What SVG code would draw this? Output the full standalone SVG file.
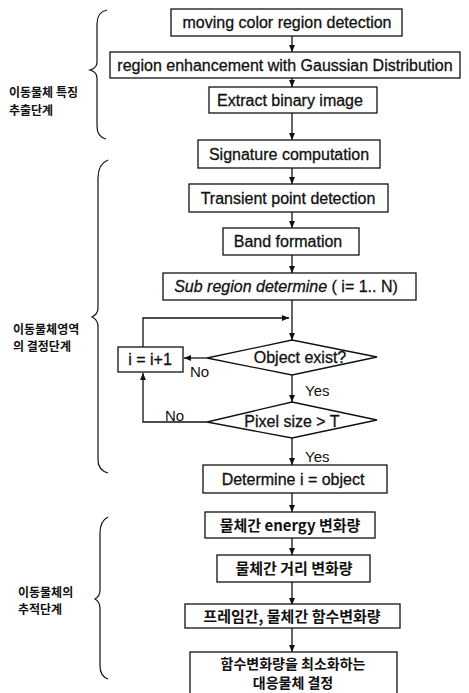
<svg xmlns="http://www.w3.org/2000/svg" width="469" height="693" viewBox="0 0 469 693">
<style>
.box{fill:#fff;stroke:#111;stroke-width:1.3}
.t{font-family:"Liberation Sans","Noto Sans CJK KR",sans-serif;font-size:16px;fill:#111;stroke:#111;stroke-width:0.3;text-anchor:middle}
.k{font-family:"Noto Sans CJK KR","Liberation Sans",sans-serif;font-size:15px;fill:#111;text-anchor:middle;font-weight:bold}
.k2{font-family:"Noto Sans CJK KR","Liberation Sans",sans-serif;font-size:14px;fill:#111;text-anchor:middle;font-weight:bold}
.lab{font-family:"Noto Sans CJK KR","Liberation Sans",sans-serif;font-size:12px;fill:#111;font-weight:bold}
.yn{font-family:"Liberation Sans",sans-serif;font-size:15px;fill:#111}
.c{fill:none;stroke:#111;stroke-width:1.3}
.br{fill:none;stroke:#111;stroke-width:1.2}
</style>
<defs>
<marker id="ah" markerUnits="userSpaceOnUse" markerWidth="8" markerHeight="8" refX="7" refY="4" orient="auto">
<path d="M0,1 L7,4 L0,7 Z" fill="#111"/>
</marker>
</defs>
<rect width="469" height="693" fill="#fff"/>

<g id="braces">
<path class="br" d="M107,10 Q97,12 97,24 L97,62 Q97,68 90,70 Q97,72 97,78 L97,126 Q97,137 106,139"/>
<path class="br" d="M108,160 Q98,164 98,178 L98,308 Q98,314 92,317 Q98,320 98,326 L98,460 Q98,470 108,473"/>
<path class="br" d="M108,517 Q100,521 100,533 L100,590 Q100,596 95,599 Q100,602 100,608 L100,666 Q100,676 108,679"/>
</g>

<g id="labels">
<text class="lab" x="9" y="97">이동물체 특징</text>
<text class="lab" x="9" y="115">추출단계</text>
<text class="lab" x="13" y="334">이동물체영역</text>
<text class="lab" x="13" y="351">의 결정단계</text>
<text class="lab" x="18" y="597">이동물체의</text>
<text class="lab" x="18" y="614">추적단계</text>
</g>

<g id="connectors">
<line class="c" x1="292" y1="36" x2="292" y2="52" marker-end="url(#ah)"/>
<line class="c" x1="292" y1="78" x2="292" y2="87" marker-end="url(#ah)"/>
<line class="c" x1="292" y1="113" x2="292" y2="140" marker-end="url(#ah)"/>
<line class="c" x1="292" y1="168" x2="292" y2="184" marker-end="url(#ah)"/>
<line class="c" x1="292" y1="212" x2="292" y2="228" marker-end="url(#ah)"/>
<line class="c" x1="292" y1="255" x2="292" y2="273" marker-end="url(#ah)"/>
<line class="c" x1="292" y1="300" x2="292" y2="340" marker-end="url(#ah)"/>
<polyline class="c" points="143,347 143,318 289,318" marker-end="url(#ah)"/>
<line class="c" x1="207" y1="358" x2="184" y2="358" marker-end="url(#ah)"/>
<line class="c" x1="292" y1="375" x2="292" y2="402" marker-end="url(#ah)"/>
<polyline class="c" points="207,422 143,422 143,373" marker-end="url(#ah)"/>
<line class="c" x1="292" y1="438" x2="292" y2="465" marker-end="url(#ah)"/>
<line class="c" x1="292" y1="493" x2="292" y2="512" marker-end="url(#ah)"/>
<line class="c" x1="292" y1="538" x2="292" y2="555" marker-end="url(#ah)"/>
<line class="c" x1="292" y1="582" x2="292" y2="605" marker-end="url(#ah)"/>
<line class="c" x1="292" y1="627" x2="292" y2="652" marker-end="url(#ah)"/>
<text class="yn" x="190" y="377">No</text>
<text class="yn" x="305" y="396">Yes</text>
<text class="yn" x="165" y="421">No</text>
<text class="yn" x="305" y="462">Yes</text>
</g>

<g id="n1"><rect class="box" x="171" y="9" width="231" height="27"/><text class="t" x="287" y="28">moving color region detection</text></g>
<g id="n2"><rect class="box" x="110" y="52" width="350" height="26"/><text class="t" x="285" y="71">region enhancement with Gaussian Distribution</text></g>
<g id="n3"><rect class="box" x="209" y="87" width="168" height="26"/><text class="t" x="290" y="106">Extract binary image</text></g>
<g id="n4"><rect class="box" x="198" y="140" width="182" height="28"/><text class="t" x="289" y="160">Signature computation</text></g>
<g id="n5"><rect class="box" x="189" y="184" width="199" height="28"/><text class="t" x="288" y="204">Transient point detection</text></g>
<g id="n6"><rect class="box" x="223" y="228" width="136" height="27"/><text class="t" x="288" y="247">Band formation</text></g>
<g id="n7"><rect class="box" x="163" y="273" width="253" height="27"/><text class="t" x="286" y="292"><tspan font-style="italic">Sub region determine</tspan> ( i= 1.. N)</text></g>
<g id="n8"><polygon class="box" points="292,340 377,357 292,375 207,358"/><text class="t" x="300" y="363">Object exist?</text></g>
<g id="n9"><rect class="box" x="118" y="347" width="65" height="25"/><text class="t" x="150" y="365">i = i+1</text></g>
<g id="n10"><polygon class="box" points="292,402 377,420 292,438 207,422"/><text class="t" x="292" y="427">Pixel size &gt; T</text></g>
<g id="n11"><rect class="box" x="203" y="465" width="184" height="28"/><text class="t" x="293" y="485">Determine i = object</text></g>
<g id="n12"><rect class="box" x="205" y="512" width="170" height="26"/><text class="k" x="290" y="531">물체간 energy 변화량</text></g>
<g id="n13"><rect class="box" x="217" y="555" width="153" height="27"/><text class="k" x="294" y="574">물체간 거리 변화량</text></g>
<g id="n14"><rect class="box" x="185" y="604" width="215" height="24"/><text class="k" x="292" y="622">프레임간, 물체간 함수변화량</text></g>
<g id="n15"><rect class="box" x="190" y="652" width="207" height="50"/><text class="k2" x="293" y="669">함수변화량을 최소화하는</text><text class="k2" x="293" y="688">대응물체 결정</text></g>
</svg>
